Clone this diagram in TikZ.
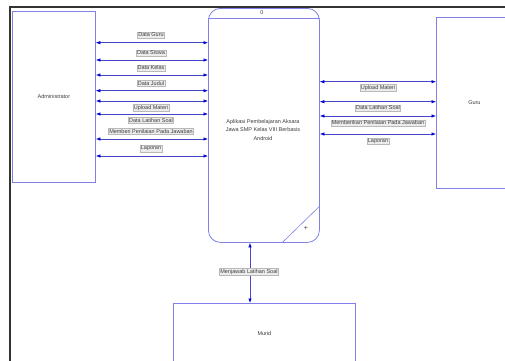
\documentclass[tikz,border=0pt]{standalone}
\usepackage{fontspec}
\setmainfont{Liberation Sans}
\usetikzlibrary{arrows.meta}
\definecolor{boxline}{RGB}{128,128,230}
\definecolor{flowline}{RGB}{70,70,200}
\definecolor{headblue}{RGB}{0,0,210}
\definecolor{txt}{RGB}{60,60,60}
\tikzset{
  x=1pt, y=-1pt,
  entity/.style={draw=boxline, line width=0.8pt, fill=white, inner sep=0pt,
    font=\fontsize{5.5}{6.5}\selectfont, text=txt},
  proc/.style={entity, rounded corners=12pt},
  flow/.style={draw=flowline, line width=0.6pt,
    {Latex[length=4.5pt,width=3.4pt,color=headblue]}-{Latex[length=4.5pt,width=3.4pt,color=headblue]}},
  lbl/.style={draw=gray!55, fill=gray!15, inner sep=0.8pt, line width=0.4pt,
    font=\fontsize{5.5}{6.5}\selectfont, text=txt},
  frameline/.style={draw=black!80, line width=1.5pt}
}
\begin{document}
\begin{tikzpicture}
\clip (0,0) rectangle (505,360);
\fill[white] (0,0) rectangle (505,360);

% outer frame (top and left edges)
\draw[frameline] (10,362) -- (10,7) -- (507,7);

% external entities and the process
\node[entity, minimum width=83pt, minimum height=171pt, anchor=north west] (adm) at (12,11) {Administrator};
\node[entity, minimum width=76pt, minimum height=171pt, anchor=north west] (guru) at (436,17) {Guru};
\node[entity, minimum width=182pt, minimum height=60pt, anchor=north west] (murid) at (173,303) {Murid};
\node[proc, minimum width=111pt, minimum height=234pt, anchor=north west] (app) at (208,8) {};
\node[font=\fontsize{5.5}{8.5}\selectfont, text=txt, align=center] (apptxt) at (263,130)
  {Aplikasi Pembelajaran Aksara\\Jawa SMP Kelas VIII Berbasis\\Android};

% process header and corner mark
\draw[boxline, line width=0.6pt] (app.west |- 0,18) -- (app.east |- 0,18);
\node[font=\fontsize{5.5}{6}\selectfont, text=txt] (num) at (262,12.5) {0};
\draw[boxline, line width=0.6pt] (app.south -| 282,0) -- (app.east |- 0,206);
\node[font=\fontsize{7}{7}\selectfont, text=txt] (plus) at (306,228) {+};

% Administrator <-> process
\foreach \yy in {42.7,60,75,90.7,101,114,139,156}
  \draw[flow] (adm.east |- 0,\yy) -- (app.west |- 0,\yy);
\node[lbl] (l1) at (151,35) {Data Guru};
\node[lbl] (l2) at (151,53) {Data Siswa};
\node[lbl] (l3) at (151,68) {Data Kelas};
\node[lbl] (l4) at (151,83.5) {Data Judul};
\node[lbl] (l5) at (151,108) {Upload Materi};
\node[lbl] (l6) at (151,120.5) {Data Latihan Soal};
\node[lbl] (l7) at (151,131.5) {Memberi Penilaian Pada Jawaban};
\node[lbl] (l8) at (151,148.5) {Laporan};

% process <-> Guru
\foreach \yy in {81.7,101.7,116,134}
  \draw[flow] (app.east |- 0,\yy) -- (guru.west |- 0,\yy);
\node[lbl] (r1) at (378,88) {Upload Materi};
\node[lbl] (r2) at (378,108) {Data Latihan Soal};
\node[lbl] (r3) at (378,123) {Memberikan Penilaian Pada Jawaban};
\node[lbl] (r4) at (378,141) {Laporan};

% process <-> Murid
\draw[flow] (app.south -| 250,0) -- (murid.north -| 250,0);
\node[lbl] (b1) at (249,272) {Menjawab Latihan Soal};
\end{tikzpicture}
\end{document}
